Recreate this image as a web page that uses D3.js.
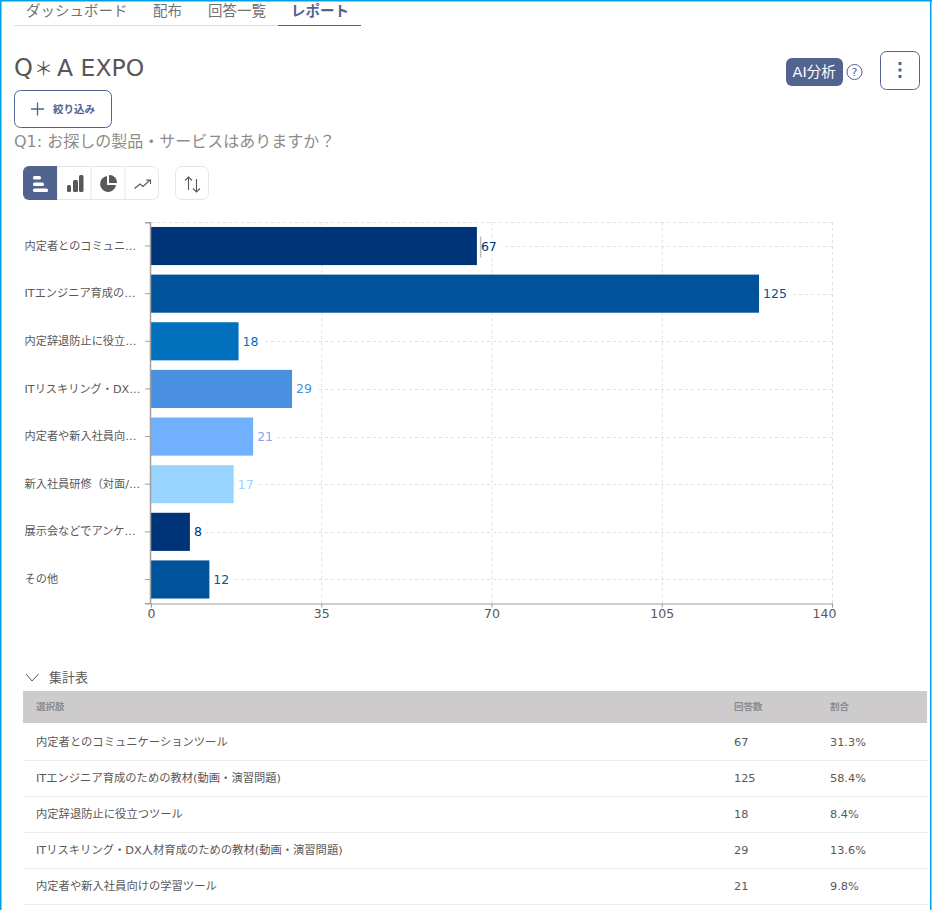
<!DOCTYPE html>
<html><head><meta charset="utf-8">
<script src="https://cdn.jsdelivr.net/npm/d3@7"></script>
<style>
html,body{margin:0;padding:0;background:#fff;overflow:hidden}
svg{display:block}
text{font-family:"DejaVu Sans","Noto Sans CJK JP",sans-serif}
</style></head><body>
<svg id="c" width="932" height="910"></svg>
<script>
const axisLabels=["内定者とのコミュニ…","ITエンジニア育成の…","内定辞退防止に役立…","ITリスキリング・DX…","内定者や新入社員向…","新入社員研修（対面/…","展示会などでアンケ…","その他"];
const counts=[67,125,18,29,21,17,8,12];
const barColors=["#003478","#00529b","#0070bd","#4a90e0","#70b0ff","#99d3ff","#003478","#00529b"];
const valueColors=["#003478","#00529b","#0070bd","#4a90e0","#8aa6e4","#99d3ff","#003478","#00529b"];
const xTicks=[0,35,70,105,140];
const tabs=["ダッシュボード","配布","回答一覧","レポート"];
const titleParts=["Q","＊","A EXPO"];
const tableHead=["選択肢","回答数","割合"];
const rowNames=["内定者とのコミュニケーションツール","ITエンジニア育成のための教材(動画・演習問題)","内定辞退防止に役立つツール","ITリスキリング・DX人材育成のための教材(動画・演習問題)","内定者や新入社員向けの学習ツール"];
const rowCounts=[67,125,18,29,21];
const rowShares=["31.3%","58.4%","8.4%","13.6%","9.8%"];

const svg=d3.select("#c");
const INK="#595757",NAVY="#536390",GRID="#e0e0e0",AXIS="#a0a0a0";
const T=(x,y,s,size,fill,o={})=>svg.append("text").attr("x",x).attr("y",y).text(s).attr("font-size",size).attr("fill",fill).attr("text-anchor",o.a||"start").attr("font-weight",o.w||400);
const R=(x,y,w,h,fill,o={})=>svg.append("rect").attr("x",x).attr("y",y).attr("width",w).attr("height",h).attr("fill",fill).attr("rx",o.rx||0).attr("stroke",o.stroke||"none");

// window frame
R(0,0,932,1.5,"#00a0e9");
R(0,0,1.5,910,"#00a0e9");
R(930,0,1.5,910,"#00a0e9");

// tabs
svg.append("line").attr("x1",14).attr("x2",361).attr("y1",25.5).attr("y2",25.5).attr("stroke","#dcdddd");
svg.append("line").attr("x1",278).attr("x2",361).attr("y1",25.5).attr("y2",25.5).attr("stroke",NAVY);
const tabX=[26,153,208,291];
tabs.forEach((t,i)=>T(tabX[i],16,t,14.5,i==3?NAVY:"#727171",{w:i==3?700:400}));

// title, filter button, question
T(14,76,titleParts[0],24,INK);
T(34,76,titleParts[1],19,INK);
T(57,76,titleParts[2],23.5,INK);
R(14.5,90.5,97,37,"#fff",{rx:6,stroke:NAVY});
svg.append("path").attr("d","M31 109H44M37.5 102.5V115.5").attr("stroke",NAVY).attr("stroke-width",1.3);
T(53,113,"絞り込み",10.5,NAVY,{w:700});
T(14,147,"Q1: お探しの製品・サービスはありますか？",16,"#8c8c8c");

// AI button, help icon, menu
R(786,58,57,28,NAVY,{rx:6});
T(792.5,77,"AI分析",14.5,"#fff");
svg.append("circle").attr("cx",854.5).attr("cy",72).attr("r",7.5).attr("fill","none").attr("stroke",NAVY);
T(854.5,76,"?",11,NAVY,{a:"middle"});
R(880.5,51.5,39,38,"#fff",{rx:6,stroke:NAVY});
[62,68.5,75].forEach(y=>R(898.5,y,3,3,NAVY));

// chart type buttons
R(23.5,166.5,135,33,"#fff",{rx:6,stroke:"#e6e6e6"});
svg.append("path").attr("d","M57 166.5V199.5M91 166.5V199.5M125 166.5V199.5").attr("stroke","#e6e6e6").attr("stroke-width",1);
svg.append("path").attr("d","M29 166H57V200H29A6 6 0 0 1 23 194V172A6 6 0 0 1 29 166Z").attr("fill",NAVY);
[[33,176,8],[33,182.5,11],[33,188.5,15]].forEach(d=>R(d[0],d[1],d[2],3.6,"#fff",{rx:1.5}));
[[67,185,4,7],[73,180,5,12],[79,175,4.5,17]].forEach(d=>R(d[0],d[1],d[2],d[3],INK,{rx:1.5}));
svg.append("path").attr("d","M107 176A8 8 0 1 0 116 185H107Z").attr("fill",INK);
svg.append("path").attr("d","M109 175A7.5 7.5 0 0 1 117 183H109Z").attr("fill",INK);
svg.append("path").attr("d","M134.500 188.500L140 184L143 186.500L150 180M146 180H150.500V184").attr("fill","none").attr("stroke",INK).attr("stroke-width",1.1);
R(175.500,166.500,33,33,"#fff",{rx:6,stroke:"#e6e6e6"});
svg.append("path").attr("d","M188.500 190V177M185 180.500L188.500 177L192 180.500M196.500 179V192M193 188.500L196.500 192L200 188.500").attr("fill","none").attr("stroke",INK).attr("stroke-width",1.1);

// chart
const x=d3.scaleLinear().domain([0,140]).range([151,832]);
const y=d3.scaleBand().domain(axisLabels).range([222.2,603.3]).paddingInner(0.2).paddingOuter(0.1);
const mid=d=>y(d)+y.bandwidth()/2;
const dash="3,3";
svg.append("g").selectAll("line").data(xTicks.slice(1)).join("line")
  .attr("x1",d=>x(d)+.5).attr("x2",d=>x(d)+.5).attr("y1",222).attr("y2",603)
  .attr("stroke",GRID).attr("stroke-dasharray",dash);
svg.append("line").attr("x1",151).attr("x2",832).attr("y1",222.500).attr("y2",222.500).attr("stroke",GRID).attr("stroke-dasharray",dash);
svg.append("g").selectAll("line").data(axisLabels).join("line")
  .attr("x1",151).attr("x2",832)
  .attr("y1",d=>Math.round(mid(d))+.5).attr("y2",d=>Math.round(mid(d))+.5)
  .attr("stroke",GRID).attr("stroke-dasharray",dash);

svg.append("g").selectAll("rect").data(counts).join("rect")
  .attr("x",x(0)).attr("y",(d,i)=>y(axisLabels[i])).attr("width",d=>x(d)-x(0)).attr("height",y.bandwidth())
  .attr("fill",(d,i)=>barColors[i]);
// white plate under the value labels hides the grid line behind them
svg.append("g").selectAll("rect").data(counts).join("rect")
  .attr("x",d=>x(d)+1).attr("y",(d,i)=>mid(axisLabels[i])-8).attr("width",d=>String(d).length*8+7).attr("height",16)
  .attr("fill","#fff");
svg.append("g").selectAll("text").data(counts).join("text")
  .attr("x",d=>x(d)+4).attr("y",(d,i)=>mid(axisLabels[i])+4.500)
  .text(d=>d).attr("font-size",12.5).attr("fill",(d,i)=>valueColors[i]);
// small marker seen beside the first value label
R(x(67)+3,mid(axisLabels[0])-9.500,1.5,21,"#bdbdbd");

const xAxis=svg.append("g").attr("transform","translate(0,603.500)")
  .call(d3.axisBottom(x).tickValues(xTicks).tickSize(4).tickPadding(2));
xAxis.select(".domain").attr("stroke",AXIS).attr("stroke-width",1.2);
xAxis.selectAll("line").attr("stroke",AXIS);
xAxis.selectAll("text").attr("font-size",12.5).attr("fill",INK).attr("font-family",null)
  .attr("dx",d=>d===140?-8:0);
const yAxis=svg.append("g").attr("transform","translate(150,0)")
  .call(d3.axisLeft(y).tickSize(5).tickPadding(3));
yAxis.select(".domain").attr("stroke",AXIS).attr("stroke-width",1.5);
yAxis.selectAll("line").attr("stroke",AXIS);
yAxis.selectAll("text").attr("text-anchor","start").attr("x",-125.500).attr("font-size",11.2).attr("fill",INK).attr("font-family",null);

// summary table
svg.append("path").attr("d","M26 674L32 681L38.500 674").attr("fill","none").attr("stroke",INK).attr("stroke-width",1);
T(49,682,"集計表",13,INK);
R(23,691,904,32,"#cdcbcc");
const colX=[36,734,830];
tableHead.forEach((h,i)=>T(colX[i],710,h,9.500,"#8c8c8c",{w:700}));
rowNames.forEach((name,i)=>{
  const base=746+i*36;
  T(colX[0],base,name,11.300,INK);
  T(colX[1],base,rowCounts[i],11.300,INK);
  T(colX[2],base,rowShares[i],11.300,INK);
  R(23,base+14,904,1,"#ececec");
});
</script>
</body></html>
